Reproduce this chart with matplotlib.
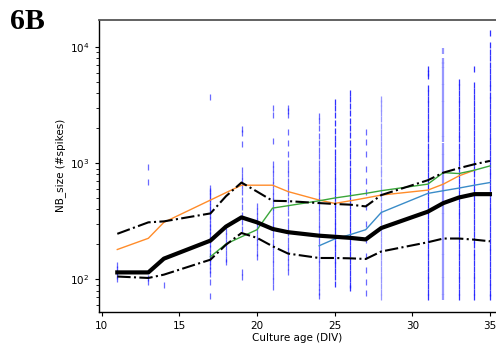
import matplotlib
matplotlib.use("Agg")
import matplotlib.pyplot as plt
import numpy as np

# ---- data ----
div = [11, 13, 14, 17, 18, 19, 20, 21, 22, 24, 25, 26, 27, 28, 31, 32, 33, 34, 35]
median = [115, 115, 151, 216, 285, 342, 310, 272, 255, 238, 233, 228, 221, 277, 383, 454, 507, 542, 542]
upper_dd = [247, 310, 316, 370, 520, 682, 570, 475, 472, 454, 446, 440, 425, 532, 714, 830, 906, 980, 1047]
lower_dd = [106, 103, 110, 148, 199, 251, 228, 193, 167, 153, 153, 152, 150, 174, 209, 225, 225, 220, 213]

orange_x = [11, 13, 14, 17, 19, 21, 22, 24, 25, 26, 27, 28, 31, 32, 33, 34]
orange_y = [181, 226, 310, 482, 647, 647, 570, 482, 451, 475, 502, 532, 587, 661, 778, 871]

green_x = [17, 18, 19, 20, 21, 22, 24, 25, 26, 27, 28, 31, 32, 33, 34, 35]
green_y = [157, 202, 233, 268, 411, 431, 475, 502, 525, 550, 580, 661, 830, 815, 871, 948]

blue_x = [24, 25, 26, 27, 28, 31, 32, 33, 34, 35]
blue_y = [195, 223, 243, 268, 377, 550, 580, 611, 647, 682]

points = {
    11: [100, 108, 115, 122, 132],
    13: [920, 690, 102, 95],
    14: [89],
    17: [3700, 610, 580, 550, 520, 490, 460, 430, 400, 380, 350, 330, 300, 280, 260,
         240, 220, 200, 185, 170, 160, 150, 140, 130, 120, 112, 95, 72],
    18: [260, 235, 210, 190, 170, 150, 140],
    19: [1950, 1830, 1450, 870, 780, 700, 640, 560, 480, 420, 360, 310, 270, 115, 105],
    20: [430, 390, 350, 320, 290, 260, 230, 210, 190, 170, 155],
    21: [2990, 2600, 1550, 990, 900, 800, 720, 650, 580, 520, 470, 420, 380, 340, 300,
         270, 240, 210, 190, 170, 150, 135, 120, 108, 97, 86],
    22: [3000, 2800, 2600, 1850, 1500, 1200, 1000, 900, 800, 700, 620, 550, 480, 420,
         370, 320, 280, 250, 220, 195, 175, 155, 140, 128, 117],
    24: [2540, 2300, 2000, 1700, 1500, 1300, 1150, 1000, 900, 800, 720, 650, 580, 520,
         470, 420, 380, 340, 300, 270, 240, 215, 190, 170, 150, 135, 120, 108, 96, 86, 78, 72],
    25: [3330, 3000, 2600, 2200, 1900, 1650, 1450, 1250, 1100, 980, 870, 780, 700, 620,
         560, 500, 450, 400, 360, 320, 290, 260, 230, 205, 185, 165, 148, 132, 118, 105, 92],
    26: [4030, 3600, 3100, 2700, 2300, 2000, 1750, 1500, 1300, 1150, 1000, 880, 780, 690,
         610, 540, 480, 430, 380, 340, 300, 265, 235, 210, 185, 165, 145, 128, 114, 100, 90, 84],
    27: [1860, 1530, 1210, 900, 700, 560, 420, 300, 220, 160, 120, 95, 76],
    28: [3540, 3300, 3000, 2700, 2400, 2100, 1850, 1650, 1450, 1300, 1150, 1020, 900, 800,
         710, 630, 560, 500, 440, 390, 350, 310, 275, 245, 218, 195, 173, 155, 138, 123,
         110, 98, 88, 78, 70],
    31: [6400, 6000, 5600, 4400, 4000, 3600, 3200, 2850, 2550, 2250, 2000, 1800, 1600,
         1420, 1260, 1120, 1000, 890, 790, 700, 625, 555, 495, 440, 390, 350, 310, 275,
         245, 218, 195, 173, 155, 138, 123, 110, 98, 88, 78, 70],
    32: [9160, 7500, 7000, 6300, 5600, 5000, 4500, 4000, 3600, 3200, 2850, 2550, 2250,
         2000, 1800, 1600, 1420, 1260, 1120, 1000, 890, 790, 700, 625, 555, 495, 440, 390,
         350, 310, 275, 245, 218, 195, 173, 155, 138, 123, 110, 98, 88, 78, 70],
    33: [5000, 4500, 4000, 3600, 3200, 2850, 2550, 2250, 2000, 1800, 1600, 1420, 1260,
         1120, 1000, 890, 790, 700, 625, 555, 495, 440, 390, 350, 310, 275, 245, 218, 195,
         173, 155, 138, 123, 110, 98, 88, 78, 71],
    34: [6400, 4700, 4200, 3700, 3300, 2950, 2600, 2300, 2050, 1820, 1620, 1440, 1280,
         1140, 1010, 900, 800, 710, 630, 560, 500, 445, 395, 350, 312, 278, 247, 220, 196,
         174, 155, 138, 123, 110, 98, 88, 78, 70],
    35: [13200, 10500, 9000, 8000, 7000, 6200, 5500, 4900, 4400, 3900, 3500, 3100, 2750,
         2450, 2180, 1940, 1730, 1540, 1370, 1220, 1090, 970, 860, 770, 685, 610, 545, 485,
         430, 385, 345, 305, 272, 242, 216, 192, 171, 152, 136, 121, 108, 96, 86, 77, 70],
}

xticks = [10, 15, 20, 25, 30, 35]

# ---- figure ----
fig = plt.figure(figsize=(4.96, 3.49), dpi=100)
ax = fig.add_axes([0.1986, 0.1074, 0.8014, 0.8353])

dense = (25, 26, 31, 33, 34, 35)
for d, vals in points.items():
    light = d in (28, 32)
    col = '#8c8cff' if light else '#1a1aff'
    if light:
        alpha = 0.9
    elif d in dense:
        alpha = 0.9
    else:
        alpha = 0.65
    ax.plot([d] * len(vals), vals, linestyle='none', marker='|', ms=3.8,
            mew=1.6 if d == 32 else 0.9, color=col, alpha=alpha, zorder=1)

ax.plot(orange_x, orange_y, color='#ff8c2a', lw=1.0, zorder=2)
ax.plot(green_x, green_y, color='#3aa63a', lw=1.0, zorder=2)
ax.plot(blue_x, blue_y, color='#3a8cc8', lw=1.0, zorder=2)
ax.plot(div, upper_dd, color='black', lw=1.5, linestyle='-.', zorder=3)
ax.plot(div, lower_dd, color='black', lw=1.5, linestyle='-.', zorder=3)
ax.plot(div, median, color='black', lw=3.0, zorder=4, solid_joinstyle='round')

ax.set_yscale('log')
ax.set_xlim(9.79, 35.39)
ax.set_ylim(53, 17060)
ax.set_xticks(xticks)
ax.tick_params(labelsize=7.5, length=3, width=0.8)
ax.tick_params(which='minor', length=2, width=0.6)
ax.set_xlabel('Culture age (DIV)', fontsize=7.5, labelpad=2)
ax.set_ylabel('NB_size (#spikes)', fontsize=7.5, labelpad=3)

ax.spines['right'].set_visible(False)
ax.spines['top'].set_color('#555555')
ax.spines['top'].set_linewidth(1.3)
ax.spines['left'].set_linewidth(1.0)
ax.spines['bottom'].set_linewidth(1.0)

fig.text(0.02, 0.978, '6B', fontsize=21.5, fontweight='bold', family='Liberation Serif',
         ha='left', va='top')

fig.savefig('out.png', dpi=100)
